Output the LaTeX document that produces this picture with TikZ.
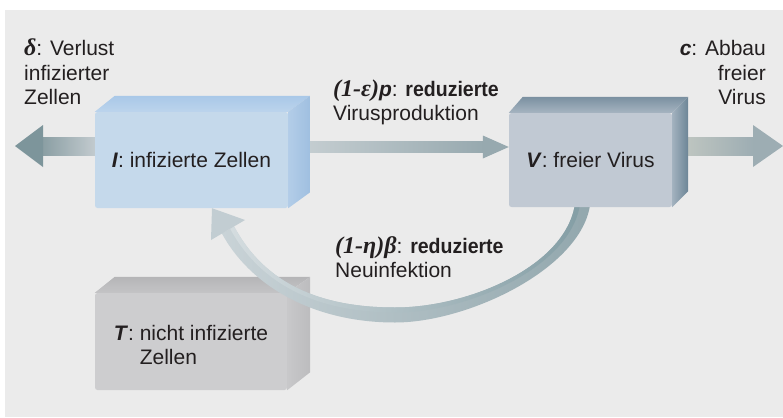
\documentclass[tikz,border=0pt]{standalone}
\usepackage{fontspec}
\usepackage{graphicx}
\setmainfont{Liberation Sans}
\newfontfamily\gk{Liberation Serif}
\usetikzlibrary{calc}
\pgfdeclarelayer{back}
\pgfdeclarelayer{tlayer}
\pgfdeclarelayer{arrows}
\pgfsetlayers{back,tlayer,arrows,main}
\definecolor{ink}{HTML}{231F20}
\definecolor{bggrey}{HTML}{EBEBEB}
\definecolor{ifront}{HTML}{C5D9EB}
\definecolor{itopB}{HTML}{A9C8E8}
\definecolor{itopF}{HTML}{BCD4EC}
\definecolor{isideL}{HTML}{B3CDE8}
\definecolor{isideR}{HTML}{9FBFE0}
\definecolor{vfront}{HTML}{C1C9D3}
\definecolor{vtopB}{HTML}{7A90A1}
\definecolor{vtopF}{HTML}{A6B4C1}
\definecolor{vsideL}{HTML}{A3B2BF}
\definecolor{vsideR}{HTML}{6C8596}
\definecolor{tfront}{HTML}{CDCDCF}
\definecolor{ttopB}{HTML}{B5B5B7}
\definecolor{ttopF}{HTML}{C4C4C6}
\definecolor{tsideL}{HTML}{C8C8CA}
\definecolor{tsideR}{HTML}{BCBCBE}
\definecolor{lA}{HTML}{7D959B}
\definecolor{lS}{HTML}{8A9EA3}
\definecolor{lB}{HTML}{C4CCD0}
\definecolor{mA}{HTML}{C9D1D4}
\definecolor{mB}{HTML}{97A9AF}
\definecolor{rA}{HTML}{C5CAC3}
\definecolor{rB}{HTML}{9DADB3}
\definecolor{cA}{HTML}{C9D3D7}
\definecolor{cB}{HTML}{92A7AD}
\definecolor{sA}{HTML}{D4DCDF}
\definecolor{sB}{HTML}{849EA5}
\definecolor{cH}{HTML}{C2CDD2}
\newcommand{\gkb}[1]{{\gk\bfseries\itshape\fontsize{24}{24}\selectfont #1}}
\newcommand{\cbold}[1]{\scalebox{0.93}[1]{\textbf{#1}}}
\begin{document}
\begin{tikzpicture}[x=1pt,y=-1pt]
\tikzset{
  txt/.style={font=\fontsize{21}{24}\selectfont, text=ink, inner sep=0pt},
  cube/.style={rounded corners=2.5pt, inner sep=0pt, font=\fontsize{21}{24}\selectfont, text=ink},
}
\useasboundingbox (0,0) rectangle (783,417);
% boxes (front faces)
\node[cube, fill=ifront, minimum width=193pt, minimum height=96pt] (I) at (191.5,160) {\textbf{\textit{I}}: infizierte Zellen};
\node[cube, fill=vfront, minimum width=163pt, minimum height=94pt] (V) at (590.5,160) {\textbf{\textit{V}}: freier Virus};
\begin{pgfonlayer}{tlayer}
\node[cube, fill=tfront, minimum width=192pt, minimum height=97pt, align=left, text height=47pt] (T) at (191,341.5) {\textbf{\textit{T}}: nicht infizierte\\\phantom{\textbf{\textit{T}}: }Zellen};
\shade[top color=ttopB, bottom color=ttopF] (T.north west) -- ($(T.north west)+(20,-16)$) -- ($(T.north east)+(23,-16)$) -- (T.north east) -- cycle;
\shade[left color=tsideL, right color=tsideR] (T.north east) -- ($(T.north east)+(23,-16)$) -- ($(T.south east)+(23,-18)$) -- (T.south east) -- cycle;
\end{pgfonlayer}
% top and side faces
\shade[top color=itopB, bottom color=itopF] (I.north west) -- ($(I.north west)+(20,-16)$) -- ($(I.north east)+(22,-16)$) -- (I.north east) -- cycle;
\shade[left color=isideL, right color=isideR] (I.north east) -- ($(I.north east)+(22,-16)$) -- ($(I.south east)+(22,-16)$) -- (I.south east) -- cycle;
\shade[top color=vtopB, bottom color=vtopF] (V.north west) -- ($(V.north west)+(14,-16)$) -- ($(V.north east)+(16,-16)$) -- (V.north east) -- cycle;
\shade[left color=vsideL, right color=vsideR] (V.north east) -- ($(V.north east)+(16,-16)$) -- ($(V.south east)+(16,-16)$) -- (V.south east) -- cycle;
% labels
\node[txt, align=left, anchor=base west] (dtxt) at (24,104) {\gkb{δ}: Verlust\\infizierter\\Zellen};
\node[txt, align=right, anchor=base east] (ctxt) at (766,104) {\textbf{\textit{c}}: Abbau\\freier\\Virus};
\node[txt, align=left, anchor=base west] (ptxt) at (333,121) {\gkb{(1-ε)}\textbf{\textit{p}}: \cbold{reduzierte}\\Virusproduktion};
\node[txt, align=left, anchor=base west] (btxt) at (335,277) {\gkb{(1-η)β}: \cbold{reduzierte}\\Neuinfektion};
% background
\begin{pgfonlayer}{back}
\fill[white] (0,0) rectangle (783,417);
\fill[bggrey] (5,10) rectangle (783,417);
\end{pgfonlayer}
% arrows
\begin{pgfonlayer}{arrows}
\coordinate (lt) at (15,146);
\shade[left color=lS, right color=lB] ($(lt)+(27,-9)$) rectangle ($(I.west|-lt)+(2,9)$);
\fill[lA] (lt) -- ($(lt)+(28,-21)$) -- ($(lt)+(28,21)$) -- cycle;
\coordinate (m0) at ($(I.east)+(0,-13)$);
\coordinate (m1) at (V.west|-m0);
\shade[left color=mA, right color=mB] ($(m0)+(0,-5.5)$) rectangle ($(m1)+(-25,5.5)$);
\fill[mB] (m1) -- ($(m1)+(-26,-11.5)$) -- ($(m1)+(-26,11.5)$) -- cycle;
\coordinate (rt) at (783,146);
\shade[left color=rA, right color=rB] ($(V.east|-rt)+(0,-9)$) rectangle ($(rt)+(-29,9)$);
\fill[rB] (rt) -- ($(rt)+(-30,-21)$) -- ($(rt)+(-30,21)$) -- cycle;
% curved arrow V -> I
\shade[left color=cA, right color=cB] (590.5,200.6) .. controls (586,266) and (470,322.5) .. (395,322.5) .. controls (310,322.5) and (248.8,283.3) .. (221.8,233.3) -- (234.2,226.7) .. controls (261.2,276.7) and (310,307.5) .. (395,307.5) .. controls (470,307.5) and (570.5,264.4) .. (575.5,199.4) -- cycle;
\shade[left color=sA, right color=sB] (580.5,199.8) .. controls (575.5,264.8) and (470,312.5) .. (395,312.5) .. controls (310,312.5) and (257.2,278.8) .. (230.2,228.8) -- (234.2,226.7) .. controls (261.2,276.7) and (310,307.5) .. (395,307.5) .. controls (470,307.5) and (570.5,264.4) .. (575.5,199.4) -- cycle;
\fill[cH] (211,240) -- (I.south -| 212,0) -- (245,220) -- cycle;
\end{pgfonlayer}
\end{tikzpicture}
\end{document}
